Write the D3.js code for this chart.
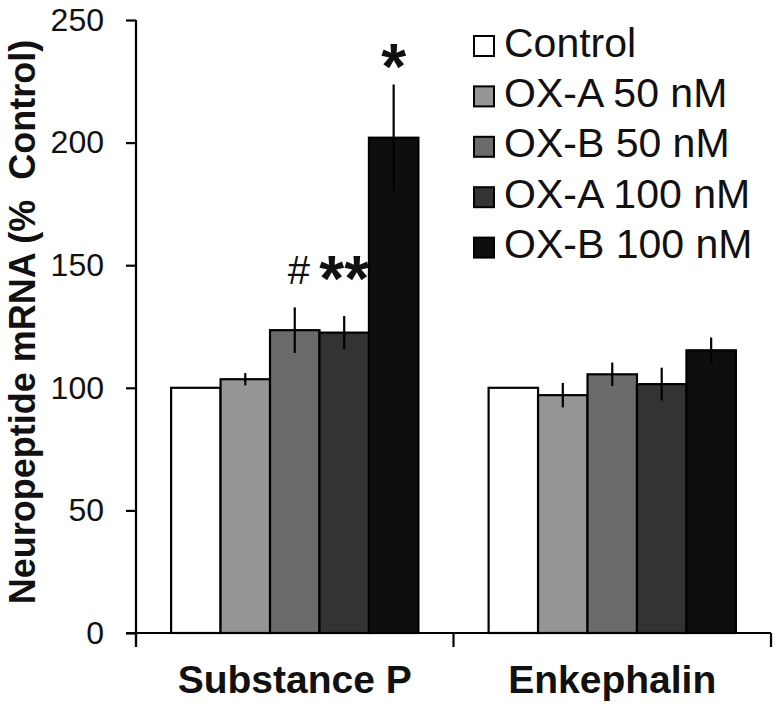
<!DOCTYPE html>
<html>
<head>
<meta charset="utf-8">
<script src="https://cdn.jsdelivr.net/npm/d3@7"></script>
<style>
  html, body { margin: 0; padding: 0; background: #fff; }
  svg { display: block; }
  text { font-family: "Liberation Sans", Arial, sans-serif; }
</style>
</head>
<body>
<svg id="chart" width="778" height="704"></svg>
<script>
// ---- data ----
const categories = ["Substance P", "Enkephalin"];
const seriesNames = ["Control", "OX-A 50 nM", "OX-B 50 nM", "OX-A 100 nM", "OX-B 100 nM"];
const seriesColors = ["#ffffff", "#969696", "#6b6b6b", "#333333", "#0e0e0e"];
const substancePValues = [100, 103.5, 123.5, 122.5, 202];
const substancePErrors = [0, 2.5, 9.3, 6.8, 21.7];
const enkephalinValues = [100, 97, 105.5, 101.5, 115.3];
const enkephalinErrors = [0, 5, 4.8, 6.7, 5.2];
const yTicks = [0, 50, 100, 150, 200, 250];
const yLabel = "Neuropeptide mRNA (%  Control)";
// significance marks: category, series index, label, value level of the glyph baseline
const annotations = [
  { cat: "Substance P", s: 2, label: "#", bold: false, level: 142.5 },
  { cat: "Substance P", s: 3, label: "**", bold: true, level: 135.5 },
  { cat: "Substance P", s: 4, label: "*", bold: true, level: 222 }
];

const values = [substancePValues, enkephalinValues];
const errors = [substancePErrors, enkephalinErrors];

// ---- layout ----
const svg = d3.select("#chart");
const x0 = d3.scaleBand().domain(categories).range([136, 771]).paddingInner(0).paddingOuter(0);
const x1 = d3.scaleBand().domain(d3.range(seriesNames.length)).range([0, x0.bandwidth()]).paddingInner(0).paddingOuter(0.71);
const y = d3.scaleLinear().domain([0, 250]).range([633, 20]);

const data = [];
categories.forEach((c, ci) => {
  seriesNames.forEach((s, si) => {
    data.push({ cat: c, s: si, v: values[ci][si], e: errors[ci][si] });
  });
});

// bars
svg.append("g").selectAll("rect").data(data).join("rect")
  .attr("x", d => x0(d.cat) + x1(d.s))
  .attr("y", d => y(d.v))
  .attr("width", x1.bandwidth())
  .attr("height", d => y(0) - y(d.v))
  .attr("fill", d => seriesColors[d.s])
  .attr("stroke", "#000")
  .attr("stroke-width", 2.2);

// error bars
svg.append("g").selectAll("line").data(data.filter(d => d.e > 0)).join("line")
  .attr("x1", d => x0(d.cat) + x1(d.s) + x1.bandwidth() / 2)
  .attr("x2", d => x0(d.cat) + x1(d.s) + x1.bandwidth() / 2)
  .attr("y1", d => y(d.v + d.e))
  .attr("y2", d => y(d.v - d.e))
  .attr("stroke", "#000")
  .attr("stroke-width", 2.2);

// y axis
const yAxis = d3.axisLeft(y).tickValues(yTicks).tickSize(10).tickPadding(22).tickSizeOuter(0);
const gy = svg.append("g").attr("transform", "translate(136,0)").call(yAxis);
gy.select(".domain").attr("stroke-width", 2.2).attr("d", "M0,20V647");
gy.selectAll(".tick line").attr("stroke-width", 2.2);
gy.selectAll(".tick text").attr("font-size", 32).attr("fill", "#111")
  .attr("font-family", "'Liberation Sans', Arial, sans-serif");

// x axis
const gx = svg.append("g").attr("transform", "translate(0,633)");
gx.append("line").attr("x1", 126).attr("x2", 771).attr("y1", 0).attr("y2", 0)
  .attr("stroke", "#000").attr("stroke-width", 2.2);
const catEdges = [x0(categories[0]), x0(categories[1]), x0(categories[1]) + x0.bandwidth()];
gx.selectAll("line.ct").data(catEdges).join("line").attr("class", "ct")
  .attr("x1", d => d).attr("x2", d => d).attr("y1", 0).attr("y2", 14)
  .attr("stroke", "#000").attr("stroke-width", 2.2);
gx.selectAll("text").data(categories).join("text")
  .attr("x", d => x0(d) + x0.bandwidth() / 2)
  .attr("y", 60)
  .attr("text-anchor", "middle")
  .attr("font-size", 39)
  .attr("font-weight", "bold")
  .attr("fill", "#111")
  .text(d => d);

// y label
svg.append("text")
  .attr("transform", "translate(35,322) rotate(-90)")
  .attr("text-anchor", "middle")
  .attr("font-size", 36)
  .attr("font-weight", "bold")
  .attr("fill", "#111")
  .style("white-space", "pre")
  .text(yLabel);

// annotations
svg.append("g").selectAll("text").data(annotations).join("text")
  .attr("x", d => x0(d.cat) + x1(d.s) + x1.bandwidth() / 2 + (d.bold ? 0 : 4))
  .attr("y", d => y(d.level))
  .attr("text-anchor", "middle")
  .attr("font-size", d => d.bold ? 64 : 40)
  .attr("font-weight", d => d.bold ? "bold" : "normal")
  .attr("fill", "#111")
  .text(d => d.label);

// legend
const legend = svg.append("g").attr("transform", "translate(473,35)");
const li = legend.selectAll("g").data(seriesNames).join("g")
  .attr("transform", (d, i) => `translate(0,${i * 50.4})`);
li.append("rect").attr("x", 1).attr("y", 1).attr("width", 20).attr("height", 20)
  .attr("fill", (d, i) => seriesColors[i]).attr("stroke", "#000").attr("stroke-width", 2);
li.append("text").attr("x", 31).attr("y", 21.5)
  .attr("font-size", 41).attr("fill", "#111")
  .text(d => d);
</script>
</body>
</html>
